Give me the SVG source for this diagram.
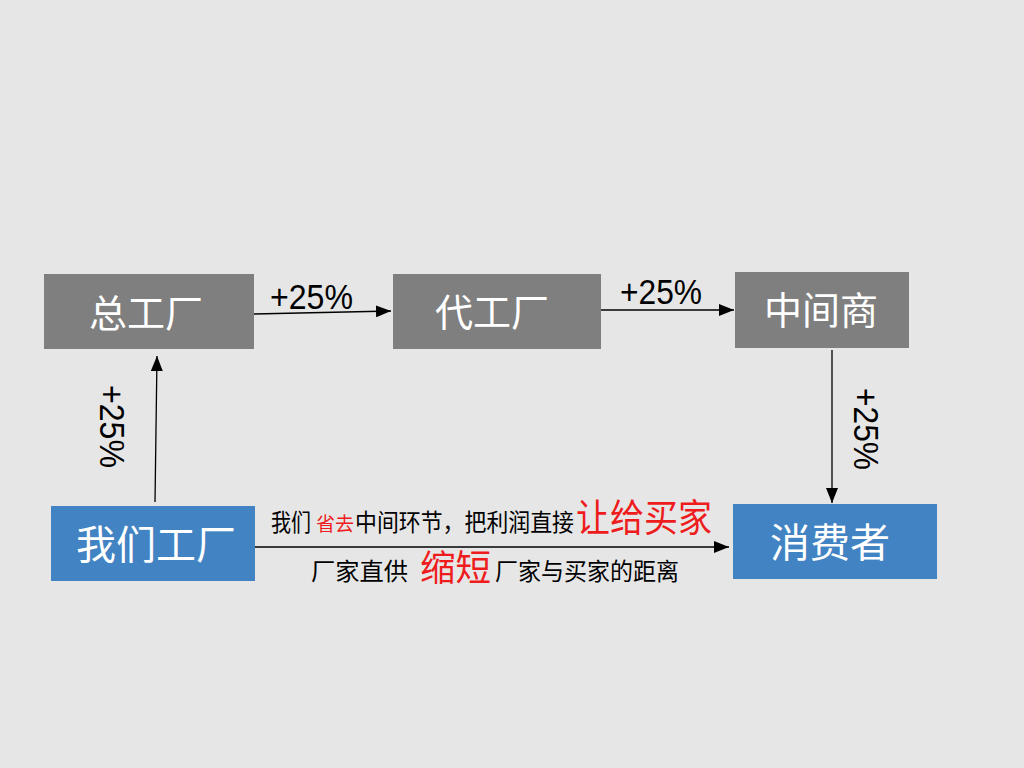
<svg xmlns="http://www.w3.org/2000/svg" width="1024" height="768" viewBox="0 0 1024 768">
<defs>
<marker id="ah" markerWidth="15" markerHeight="12" refX="15" refY="6" orient="auto" markerUnits="userSpaceOnUse">
<path d="M0,0 L15,6 L0,12 Z" fill="#000"/>
</marker>
<style>
.gray{fill:#7f7f7f}
.blue{fill:#4283c3}
.nt{font-family:"Noto Sans CJK SC","Noto Sans",sans-serif;fill:#fff;text-anchor:middle}
.pct{font-family:"Liberation Sans",Arial,sans-serif;font-size:35px;fill:#000}
.cn{font-family:"Noto Sans CJK SC",sans-serif;fill:#000}
.red{fill:#ee1c1c}
.ln{stroke:#000;stroke-width:1.3;fill:none;marker-end:url(#ah)}
</style>
</defs>
<rect width="1024" height="768" fill="#e6e6e6"/>
<g id="node-zonggongchang">
<rect class="gray" x="44" y="274" width="210" height="75"/>
<text class="nt" x="146" y="327" font-size="38">总工厂</text>
</g>
<g id="node-daigongchang">
<rect class="gray" x="393" y="274" width="208" height="75"/>
<text class="nt" x="492" y="326" font-size="38">代工厂</text>
</g>
<g id="node-zhongjianshang">
<rect class="gray" x="735" y="272" width="174" height="76"/>
<text class="nt" x="821" y="324" font-size="38">中间商</text>
</g>
<g id="node-women">
<rect class="blue" x="51" y="506" width="204" height="75"/>
<text class="nt" x="156" y="559" font-size="40">我们工厂</text>
</g>
<g id="node-xiaofeizhe">
<rect class="blue" x="733" y="504" width="204" height="75"/>
<text class="nt" x="830" y="557" font-size="40">消费者</text>
</g>
<g id="connectors">
<line class="ln" x1="254" y1="314" x2="391" y2="311"/>
<line class="ln" x1="601" y1="310" x2="734" y2="310"/>
<line class="ln" x1="155" y1="502" x2="157" y2="356"/>
<line class="ln" x1="832" y1="350" x2="832" y2="503"/>
<line class="ln" x1="255" y1="547" x2="729" y2="547"/>
<text class="pct" x="270" y="309" textLength="83" lengthAdjust="spacingAndGlyphs">+25%</text>
<text class="pct" x="620" y="304" textLength="82" lengthAdjust="spacingAndGlyphs">+25%</text>
<text class="pct" transform="translate(100,385) rotate(90)" textLength="83" lengthAdjust="spacingAndGlyphs">+25%</text>
<text class="pct" transform="translate(854,388) rotate(90)" textLength="82" lengthAdjust="spacingAndGlyphs">+25%</text>
</g>
<g id="labels">
<text class="cn" y="531" font-size="24"><tspan x="271" textLength="40" lengthAdjust="spacingAndGlyphs">我们</tspan><tspan class="red" x="316" font-size="19">省去</tspan><tspan x="355" textLength="219" lengthAdjust="spacingAndGlyphs">中间环节，把利润直接</tspan><tspan class="red" x="576" font-size="38" textLength="136" lengthAdjust="spacingAndGlyphs">让给买家</tspan></text>
<text class="cn" y="580" font-size="24"><tspan x="311" textLength="97" lengthAdjust="spacingAndGlyphs">厂家直供</tspan><tspan class="red" x="420" dy="1" font-size="36" textLength="71" lengthAdjust="spacingAndGlyphs">缩短</tspan><tspan x="495" dy="-1" textLength="184" lengthAdjust="spacingAndGlyphs">厂家与买家的距离</tspan></text>
</g>
</svg>
